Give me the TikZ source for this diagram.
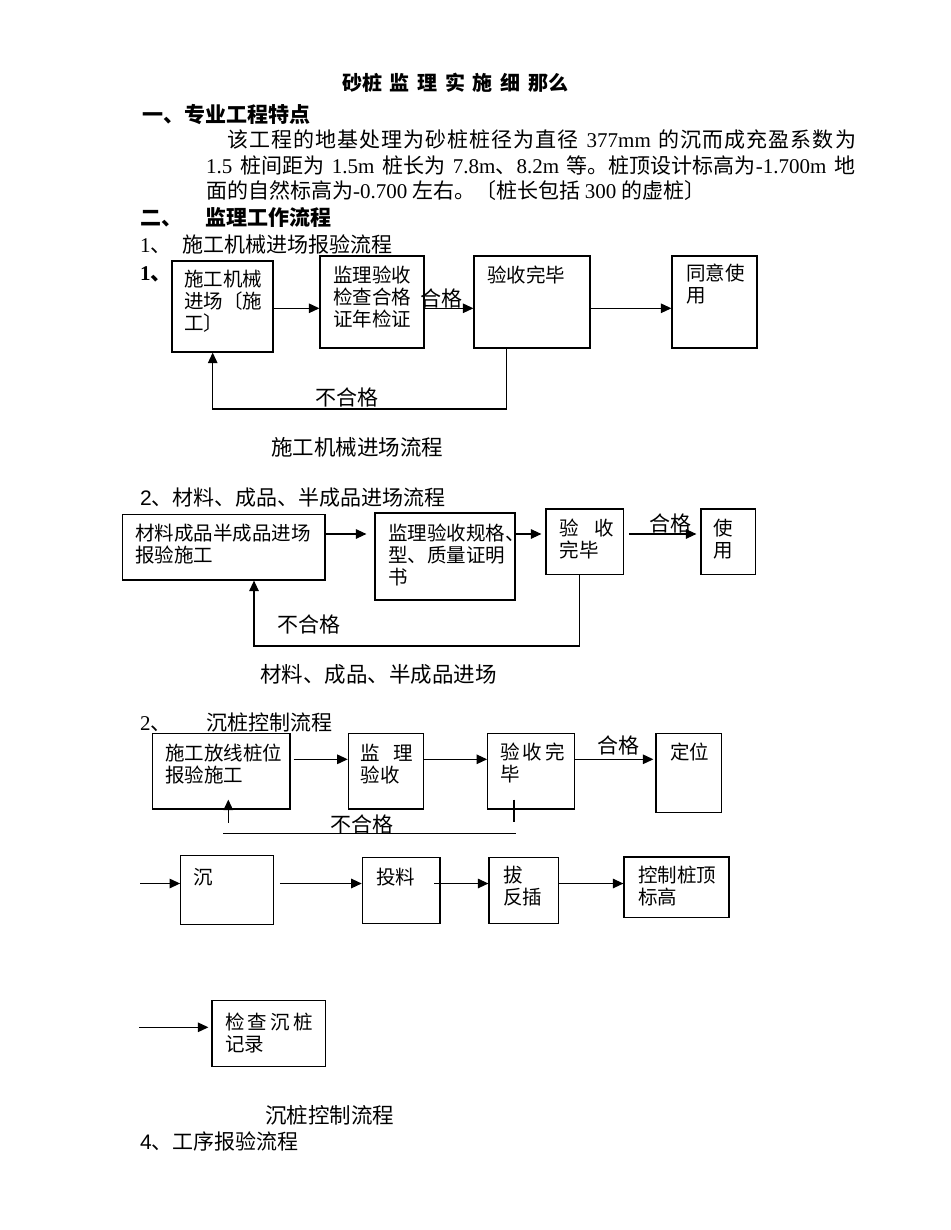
\documentclass[tikz,border=0pt]{standalone}
\usepackage{fontspec}
\setmainfont{Noto Sans CJK SC}
\newfontfamily\wide[LetterSpace=5]{Noto Sans CJK SC}
\newfontfamily\lat{Liberation Serif}
\newfontfamily\lats{Liberation Sans}
\usetikzlibrary{arrows.meta}

% strut for the first line of a box text
\newcommand{\bs}{\rule{0pt}{0.9em}}

\tikzset{
  box/.style={draw, line width=1.2pt, fill=white, inner sep=0pt},
  boxtext/.style={anchor=north west, align=left, inner sep=0pt, font=\fontsize{19.5}{21.8}\selectfont},
  txt/.style={anchor=base west, inner sep=0pt, font=\fontsize{21}{26}\selectfont},
  head/.style={anchor=base west, inner sep=0pt, font=\bfseries\fontsize{21}{26}\selectfont},
  captxt/.style={anchor=base west, inner sep=0pt, font=\fontsize{21.5}{26}\selectfont},
  arr/.style={line width=1.2pt, -{Triangle[length=10.5pt,width=9.5pt]}},
  ln/.style={line width=1.2pt}
}

\begin{document}
\begin{tikzpicture}[x=1pt, y=-1pt]
    \fill[white] (0,0) rectangle (950,1230);
    \useasboundingbox (0,0) rectangle (950,1230);

    % Title and text
    \node[anchor=base, inner sep=0pt, font=\bfseries\fontsize{20}{24}\selectfont] (ttl) at (455,90.6) {\makebox[226pt][s]{砂桩 监 理 实 施 细 那么}};
    \node[head] (h1) at (142,123) {一、专业工程特点};
    \node[txt] (p1) at (227,148) {\makebox[628.8pt][s]{{\wide 该工程的地基处理为砂桩桩径为直径} {\lat 377mm} {\wide 的沉而成充盈系数为}}};
    \node[txt] (p2) at (206,173.5) {\makebox[649pt][s]{{\lat 1.5} 桩间距为 {\lat 1.5m} 桩长为 {\lat 7.8m}、{\lat 8.2m} 等。桩顶设计标高为{\lat -1.700m} 地}};
    \node[txt] (p3) at (206,199) {面的自然标高为{\lat -0.700} 左右。〔桩长包括 {\lat 300} 的虚桩〕};
    \node[head] (h2) at (140,226) {二、\hspace{23pt}监理工作流程};
    \node[txt] (h3) at (140,253) {{\lat 1}、\hspace{11pt}施工机械进场报验流程};
    \node[head] (h3b) at (140,280) {{\lat\bfseries 1}、};

    % Flow 1
    \node[box, minimum width=101pt, minimum height=91pt] (mach) at (222.5,306.5) {};
    \node[box, minimum width=104pt, minimum height=92pt] (check) at (372,302) {};
    \node[box, minimum width=116pt, minimum height=92pt] (done) at (532,302) {};
    \node[box, minimum width=85pt, minimum height=92pt] (agree) at (714.5,302) {};
    \node[boxtext] (machT) at (184,269) {\bs 施工机械\\进场〔施\\工〕};
    \node[boxtext] (checkT) at (333,265) {\bs 监理验收\\检查合格\\证年检证};
    \node[boxtext] (doneT) at (487,265) {\bs 验收完毕};
    \node[boxtext] (agreeT) at (686,263) {\bs 同意使\\用};
    \coordinate (r1) at (0,308.3);
    \draw[arr] (mach.east |- r1) -- (check.west |- r1);
    \draw[arr] (check.east |- r1) -- (done.west |- r1);
    \draw[arr] (done.east |- r1) -- (agree.west |- r1);
    \node[txt] (ok1) at (420,306) {合格};
    \coordinate (fb1r) at (506.7,409);
    \coordinate (fb1l) at (212.7,409);
    \draw[arr] (done.south -| fb1r) -- (fb1r) -- (fb1l) -- (mach.south -| fb1l);
    \node[txt] (ng1) at (315,405) {不合格};
    \node[captxt] (cap1) at (271,455) {施工机械进场流程};

    % Flow 2
    \node[txt] (h4) at (140,505) {{\lats 2}、材料、成品、半成品进场流程};
    \node[box, minimum width=202.3pt, minimum height=65.7pt] (mat) at (223.85,547.15) {};
    \node[box, minimum width=140pt, minimum height=87pt] (spec) at (445,556.5) {};
    \node[box, minimum width=77.3pt, minimum height=65.3pt] (done2) at (584.65,541.65) {};
    \node[box, minimum width=54.7pt, minimum height=65.3pt] (use) at (728.35,541.65) {};
    \node[boxtext] (matT) at (135,522.9) {\bs 材料成品半成品进场\\报验施工};
    \node[boxtext] (specT) at (388,522.9) {\bs 监理验收规格、\\型、质量证明\\书};
    \node[boxtext] (done2T) at (559.3,517.9) {\bs 验\hspace{16pt}收\\完毕};
    \node[boxtext] (useT) at (713,517.9) {\bs 使\\用};
    \coordinate (r2) at (0,534);
    \draw[arr, shorten >=8pt] (mat.east |- r2) -- (spec.west |- r2);
    \draw[arr, shorten >=4pt] (spec.east |- r2) -- (done2.west |- r2);
    \draw[arr, shorten <=5pt, shorten >=4pt] (done2.east |- r2) -- (use.west |- r2);
    \node[txt] (ok2) at (649,531) {合格};
    \coordinate (fb2r) at (579.3,646);
    \coordinate (fb2l) at (254,646);
    \draw[arr] (done2.south -| fb2r) -- (fb2r) -- (fb2l) -- (mat.south -| fb2l);
    \node[txt] (ng2) at (277,632) {不合格};
    \node[captxt] (cap2) at (260,682) {材料、成品、半成品进场};

    % Flow 3
    \node[txt] (h5) at (140,730) {{\lat 2}、\hspace{35pt}沉桩控制流程};
    \node[box, minimum width=137.3pt, minimum height=75.7pt] (site) at (221.35,771.15) {};
    \node[box, minimum width=75pt, minimum height=75.7pt] (sup) at (385.8,771.15) {};
    \node[box, minimum width=86.6pt, minimum height=75.7pt] (done3) at (531,771.15) {};
    \node[box, minimum width=65.7pt, minimum height=79pt] (pos) at (688.85,772.8) {};
    \node[boxtext] (siteT) at (165,742.5) {\bs 施工放线桩位\\报验施工};
    \node[boxtext] (supT) at (360.7,742.5) {\bs 监\hspace{13pt}理\\验收};
    \node[boxtext] (done3T) at (500,741.5) {\bs 验\,收\,完\\毕};
    \node[boxtext] (posT) at (670,741.5) {\bs 定位};
    \coordinate (r3) at (0,759.3);
    \draw[arr, shorten <=3pt] (site.east |- r3) -- (sup.west |- r3);
    \draw[arr] (sup.east |- r3) -- (done3.west |- r3);
    \draw[arr, shorten >=2pt] (done3.east |- r3) -- (pos.west |- r3);
    \node[txt] (ok3) at (597,753) {合格};
    \coordinate (fb3a) at (514,822);
    \draw[ln, shorten <=-10pt] (done3.south -| fb3a) -- (fb3a);
    \coordinate (fb3l) at (223.3,833.3);
    \coordinate (fb3r) at (516,833.3);
    \draw[ln] (fb3l) -- (fb3r);
    \coordinate (fb3b) at (228.3,822.7);
    \draw[arr, shorten >=-10pt] (fb3b) -- (site.south -| fb3b);
    \node[txt] (ng3) at (330,832) {不合格};

    % second row
    \coordinate (r4) at (0,883.5);
    \coordinate (in4) at (140,883.5);
    \node[box, minimum width=92.6pt, minimum height=68.6pt] (sink) at (227,890) {};
    \node[box, minimum width=77.7pt, minimum height=65.6pt] (feed) at (401.15,890.5) {};
    \node[box, minimum width=69.6pt, minimum height=66pt] (pull) at (523.8,890.3) {};
    \node[box, minimum width=105pt, minimum height=60.3pt] (ctrl) at (676.5,887.15) {};
    \node[boxtext] (sinkT) at (193.3,866.5) {\bs 沉};
    \node[boxtext] (feedT) at (376,866.5) {\bs 投料};
    \node[boxtext] (pullT) at (503,865) {\bs 拔\\反插};
    \node[boxtext] (ctrlT) at (638,865) {\bs 控制桩顶\\标高};
    \draw[arr] (in4) -- (sink.west |- r4);
    \draw[arr, shorten <=6pt] (sink.east |- r4) -- (feed.west |- r4);
    \draw[arr, shorten <=-6.4pt] (feed.east |- r4) -- (pull.west |- r4);
    \draw[arr] (pull.east |- r4) -- (ctrl.west |- r4);

    % third row
    \coordinate (in5) at (139.3,1027.3);
    \node[box, minimum width=113.7pt, minimum height=66pt] (rec) at (268.85,1033.7) {};
    \node[boxtext] (recT) at (225,1012.2) {\bs 检\,查\,沉\,桩\\记录};
    \draw[arr, shorten >=3pt] (in5) -- (rec.west |- in5);

    \node[captxt] (cap3) at (265,1123) {沉桩控制流程};
    \node[txt] (h6) at (140,1149.7) {{\lats 4}、工序报验流程};
\end{tikzpicture}
\end{document}
